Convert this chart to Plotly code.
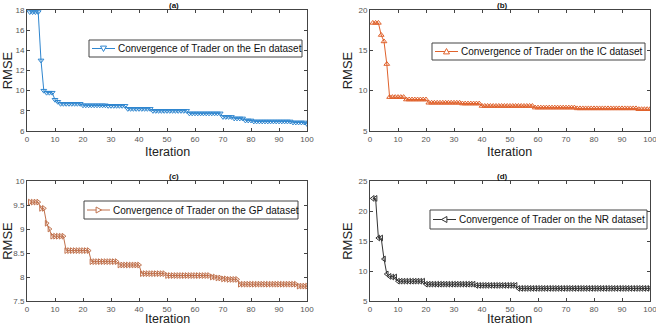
import plotly.graph_objects as go

iterations = list(range(1, 101))

def steps(segments):
    out = []
    for val, n in segments:
        out += [val] * n
    return out

rmse_en = steps([(17.8, 4), (13.0, 1), (10.0, 1), (9.8, 3), (9.1, 1), (8.9, 1), (8.7, 8),
                 (8.55, 9), (8.5, 7), (8.2, 9), (8.0, 13), (7.75, 12), (7.4, 4), (7.25, 4),
                 (7.05, 3), (6.95, 14), (6.85, 5), (6.7, 1)])
rmse_ic = steps([(18.4, 3), (16.9, 1), (16.1, 1), (13.3, 1), (9.2, 6), (8.9, 8), (8.5, 12),
                 (8.4, 7), (8.1, 19), (7.9, 15), (7.8, 22), (7.7, 5)])
rmse_gp = steps([(9.56, 4), (9.43, 2), (9.12, 1), (9.0, 1), (8.85, 5), (8.55, 9), (8.32, 10),
                 (8.25, 8), (8.07, 9), (8.03, 16), (8.0, 2), (7.98, 2), (7.96, 2), (7.95, 4),
                 (7.85, 21), (7.81, 4)])
rmse_nr = steps([(22.1, 2), (15.5, 2), (12.0, 1), (9.5, 1), (9.1, 1), (9.0, 2), (8.3, 10),
                 (7.8, 18), (7.6, 15), (7.1, 48)])

legend_texts = ["Convergence of Trader on the En dataset",
                "Convergence of Trader on the IC dataset",
                "Convergence of Trader on the GP dataset",
                "Convergence of Trader on the NR dataset"]
series_values = [rmse_en, rmse_ic, rmse_gp, rmse_nr]
colors = ["#2f86cf", "#e0622c", "#c0714c", "#333333"]
symbols = ["triangle-down-open", "triangle-up-open", "triangle-right-open", "triangle-left-open"]
titles = ["(a)", "(b)", "(c)", "(d)"]
y_ranges = [[6, 18], [5, 20], [7.5, 10], [5, 25]]
y_dticks = [2, 5, 0.5, 5]
x_title = "Iteration"
y_title = "RMSE"

W, H = 656, 327
px = lambda v: v / W
py = lambda v: 1 - v / H
x_doms = [[px(27), px(307)], [px(370), px(650)]]
y_doms = [[py(131), py(10)], [py(301), py(181)]]
x_title_bottom = [160, 326.5]
# legend boxes: left, top, right, bottom (pixels)
legend_boxes = [(89, 40, 302, 57), (432, 43, 645, 60), (84, 201, 298, 219), (430, 210, 647, 229)]

def tri_path(cx, cy, kind, s=3.0):
    if kind == "triangle-down-open":
        pts = [(cx - s, cy - s * 0.8), (cx + s, cy - s * 0.8), (cx, cy + s)]
    elif kind == "triangle-up-open":
        pts = [(cx - s, cy + s * 0.8), (cx + s, cy + s * 0.8), (cx, cy - s)]
    elif kind == "triangle-right-open":
        pts = [(cx - s * 0.8, cy - s), (cx - s * 0.8, cy + s), (cx + s, cy)]
    else:
        pts = [(cx + s * 0.8, cy - s), (cx + s * 0.8, cy + s), (cx - s, cy)]
    return "M " + " L ".join(f"{px(x):.5f},{py(y):.5f}" for x, y in pts) + " Z"

fig = go.Figure()
layout = dict(width=W, height=H, margin=dict(l=0, r=0, t=0, b=0, autoexpand=False),
              paper_bgcolor="white", plot_bgcolor="white",
              font=dict(family="Liberation Sans, Arial", size=8, color="#555"),
              showlegend=False)
annotations = []
shapes = []
for i in range(4):
    name, vals, col, sym = legend_texts[i], series_values[i], colors[i], symbols[i]
    r, c = divmod(i, 2)
    xa = "x" if i == 0 else f"x{i+1}"
    ya = "y" if i == 0 else f"y{i+1}"
    fig.add_trace(go.Scatter(x=iterations, y=vals, name=name, mode="lines+markers",
                             line=dict(color=col, width=1),
                             marker=dict(symbol=sym, size=5, color=col, line=dict(width=1)),
                             xaxis=xa, yaxis=ya))
    axkey = "xaxis" if i == 0 else f"xaxis{i+1}"
    aykey = "yaxis" if i == 0 else f"yaxis{i+1}"
    common = dict(showline=True, linecolor="#444", linewidth=1, mirror="ticks",
                  ticks="inside", ticklen=3, tickcolor="#444", showgrid=False, zeroline=False,
                  automargin=False, ticklabeloverflow="allow",
                  tickfont=dict(size=8, color="#555"))
    layout[axkey] = dict(domain=x_doms[c], anchor=ya, range=[0, 100], dtick=10, tick0=0,
                         **common)
    layout[aykey] = dict(domain=y_doms[r], anchor=xa, range=y_ranges[i], dtick=y_dticks[i],
                         title=dict(text=y_title, font=dict(size=13, color="#222"), standoff=2),
                         **common)
    annotations.append(dict(text=x_title, xref="paper", yref="paper",
                            x=sum(x_doms[c]) / 2, y=py(x_title_bottom[r]), xanchor="center",
                            yanchor="bottom", showarrow=False, borderpad=0,
                            font=dict(size=12.5, color="#222")))
    # manual legend box
    L, T, R, B = legend_boxes[i]
    shapes.append(dict(type="rect", xref="paper", yref="paper",
                       x0=px(L), x1=px(R), y0=py(B), y1=py(T),
                       line=dict(color="#444", width=1), fillcolor="white", layer="above"))
    cy = (T + B) / 2
    shapes.append(dict(type="line", xref="paper", yref="paper",
                       x0=px(L + 3), x1=px(L + 26), y0=py(cy), y1=py(cy),
                       line=dict(color=col, width=1), layer="above"))
    shapes.append(dict(type="path", xref="paper", yref="paper",
                       path=tri_path(L + 14.5, cy, sym), line=dict(color=col, width=1),
                       fillcolor="white", layer="above"))
    annotations.append(dict(text=name, xref="paper", yref="paper",
                            x=px(L + 27), y=py(cy), xanchor="left", yanchor="middle",
                            showarrow=False, font=dict(size=10, color="#111")))
    annotations.append(dict(text=f"<b>{titles[i]}</b>", xref="paper", yref="paper",
                            x=sum(x_doms[c]) / 2, y=y_doms[r][1], yanchor="bottom",
                            showarrow=False, font=dict(size=8, color="#111"), yshift=-2))
layout["annotations"] = annotations
layout["shapes"] = shapes
fig.update_layout(**layout)
fig.write_html("out.html", config={"displayModeBar": False},
               post_script="document.body.style.margin='0';document.body.style.overflow='hidden';")
